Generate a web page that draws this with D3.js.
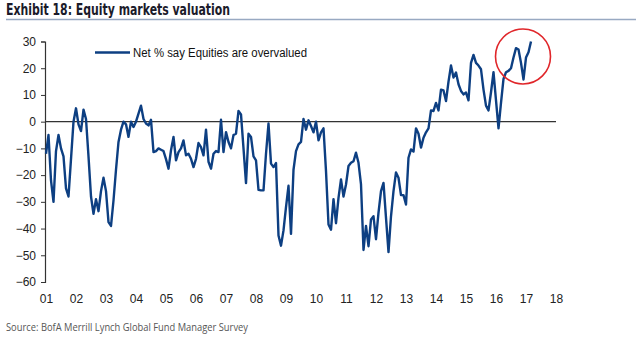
<!DOCTYPE html>
<html>
<head>
<meta charset="utf-8">
<script src="https://cdn.jsdelivr.net/npm/d3@7"></script>
<style>
  html, body { margin: 0; padding: 0; background: #fff; }
  svg { display: block; }
</style>
</head>
<body>
<div id="chart"></div>
<script>
// Monthly survey readings, Jan 2001 onwards (one row per year)
const START_YEAR = 2001;
const netOvervalued = [
  -12, -5, -22, -30, -11, -5, -10, -13, -25, -28, -14, 0,          // 2001
  5, -1, -3.5, 4.5, 1, -13, -28, -34.5, -29, -33.5, -26, -21,      // 2002
  -26, -37.6, -39, -29.5, -18, -7.6, -3, 0, -1, -5.7, 0, -2,       // 2003
  0, 3, 6, 1, -0.7, -1.4, 0.7, -11.4, -11, -10, -10.5, -11,        // 2004
  -14, -17.6, -10.7, -5.7, -14.5, -11.4, -10, -7, -12.6, -12, -13.9, -17, // 2005
  -13.9, -8, -9.5, -12.6, -3, -15, -17.6, -12, -11, -11.4, 0.7, -11.4,  // 2006
  -3.9, -7.6, -10, -5, -4.5, 4, 2.7, -10, -23, -4.5, -5.7, -13,    // 2007
  -14.5, -25.5, -25.7, -25.7, -12, -0.7, -15.7, -17, -15.5, -42.6, -46.4, -40.7, // 2008
  -32, -24, -42, -18, -11, -8.5, -7.6, 1, -3, 0.5, -1.6, -4,       // 2009
  0, -7, -4, -2.5, -18.5, -38.5, -40.4, -29, -38, -28.5, -21.6, -28, // 2010
  -23.5, -16.6, -15.4, -14.8, -11.6, -15.4, -23.5, -48, -39, -46.6, -36.6, -35.4, // 2011
  -44, -34, -26, -22.9, -36, -48.8, -35.4, -26, -19, -21, -27.5, -27.5, // 2012
  -31, -13.5, -10.4, -11.2, -2.5, -4.5, -9.7, -6, -4, -2.5, 4.2, 4, // 2013
  7, 4.2, 12, 11.7, 7.7, 15, 21, 16.5, 18.4, 14, 11.5, 10.2,       // 2014
  10.9, 8, 22, 25, 22, 21, 19.6, 12, 6, 4.2, 11, 18.5,             // 2015
  8, -2.5, 7, 16, 18.5, 19, 20, 24, 27.5, 27, 22, 15.8,            // 2016
  24, 26, 30                                                       // 2017
];

const yTicks = [-60, -50, -40, -30, -20, -10, 0, 10, 20, 30];
const xTickYears = d3.range(2001, 2019);
const xTickLabels = xTickYears.map(y => String(y % 100).padStart(2, '0'));

const legendLabel = 'Net % say Equities are overvalued';
const titleText = 'Exhibit 18: Equity markets valuation';
const sourceText = 'Source: BofA Merrill Lynch Global Fund Manager Survey';

// highlighted region around the latest readings
const highlight = { year: 2016.9, value: 24.4, r: 27.5 };

const W = 640, H = 338;
const LINE_COLOR = '#0d3f82';

const svg = d3.select('#chart').append('svg')
  .attr('width', W).attr('height', H)
  .style('font-family', '"Liberation Sans", Arial, sans-serif');

const x = d3.scaleLinear().domain([2001, 2018]).range([46, 556]);
const y = d3.scaleLinear().domain([-60, 30]).range([282, 41.5]);

// Title + rule
svg.append('text')
  .attr('x', 6).attr('y', 15)
  .attr('font-family', '"Liberation Sans Narrow", "DejaVu Sans Condensed", Arial, sans-serif')
  .attr('font-weight', 'bold').attr('font-size', 16)
  .attr('fill', '#1b1b2a')
  .attr('textLength', 224).attr('lengthAdjust', 'spacingAndGlyphs')
  .text(titleText);

svg.append('line')
  .attr('x1', 6).attr('x2', 636).attr('y1', 19.5).attr('y2', 19.5)
  .attr('stroke', '#98a9c2').attr('stroke-width', 1.6);

// Y axis
const yAxis = svg.append('g')
  .attr('transform', `translate(${x(2001) - 1},0)`)
  .call(d3.axisLeft(y).tickValues(yTicks).tickSize(4).tickPadding(5));
yAxis.select('.domain').attr('stroke', '#333').attr('stroke-width', 1.2);
yAxis.selectAll('.tick line').attr('stroke', '#333');
yAxis.selectAll('.tick text')
  .attr('font-size', 12).attr('fill', '#222')
  .attr('font-family', '"Liberation Sans", Arial, sans-serif');

// X labels (no axis line; the zero line serves as reference)
svg.append('g').selectAll('text')
  .data(xTickYears)
  .join('text')
  .attr('x', d => x(d) + 0.5)
  .attr('y', 303)
  .attr('text-anchor', 'middle')
  .attr('font-size', 12).attr('fill', '#222')
  .text((d, i) => xTickLabels[i]);

// zero line
svg.append('line')
  .attr('x1', x(2001) - 1).attr('x2', x(2018))
  .attr('y1', y(0)).attr('y2', y(0))
  .attr('stroke', '#333').attr('stroke-width', 1.2);

// Series
const line = d3.line()
  .x((d, i) => x(START_YEAR + i / 12))
  .y(d => y(d));

svg.append('path')
  .datum(netOvervalued)
  .attr('d', line)
  .attr('fill', 'none')
  .attr('stroke', LINE_COLOR)
  .attr('stroke-width', 2.4)
  .attr('stroke-linejoin', 'round');

// Legend
const lg = svg.append('g').attr('transform', 'translate(95,52.5)');
lg.append('line')
  .attr('x1', 0).attr('x2', 35)
  .attr('stroke', LINE_COLOR).attr('stroke-width', 2.4);
lg.append('text')
  .attr('x', 38).attr('y', 4.5)
  .attr('font-size', 12).attr('fill', '#111')
  .attr('textLength', 174).attr('lengthAdjust', 'spacingAndGlyphs')
  .text(legendLabel);

// Red circle annotation
svg.append('circle')
  .attr('cx', x(highlight.year)).attr('cy', y(highlight.value))
  .attr('r', highlight.r)
  .attr('fill', 'none')
  .attr('stroke', '#e0262a').attr('stroke-width', 1.6);

// Source
svg.append('text')
  .attr('x', 6).attr('y', 331)
  .attr('font-size', 10.5).attr('fill', '#555')
  .attr('font-family', '"Open Sans", "Liberation Sans", sans-serif')
  .attr('textLength', 242).attr('lengthAdjust', 'spacingAndGlyphs')
  .text(sourceText);
</script>
</body>
</html>
